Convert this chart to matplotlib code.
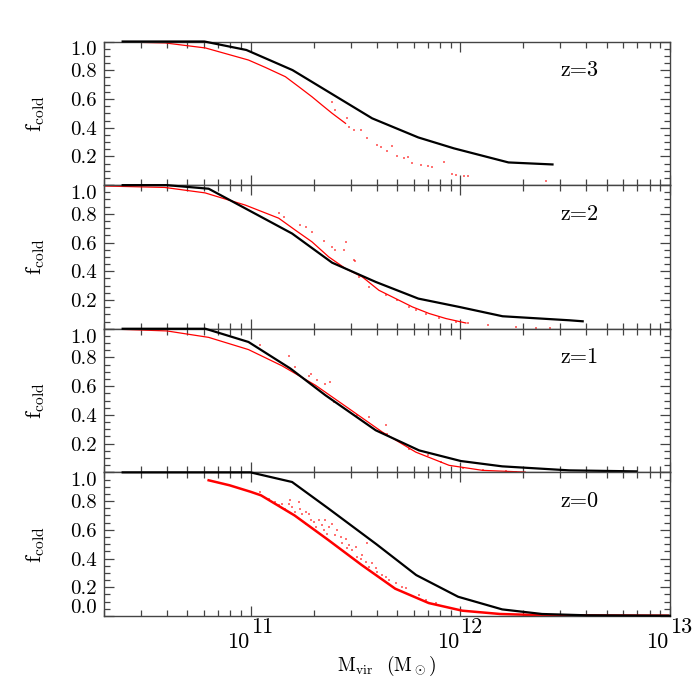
import matplotlib
matplotlib.use('Agg')
import matplotlib.pyplot as plt
import matplotlib.transforms as mtransforms
from matplotlib.ticker import FixedLocator, LogLocator, NullFormatter, FuncFormatter, MultipleLocator
import numpy as np

plt.rcParams['font.family'] = 'cmr10'
plt.rcParams['mathtext.fontset'] = 'cm'
plt.rcParams['axes.formatter.use_mathtext'] = True

# panel labels, top to bottom
redshifts = ['z=3', 'z=2', 'z=1', 'z=0']
decades = [11, 12, 13]

# black lines (log10 Mvir, f_cold)
logm_black_z3 = [10.39, 10.78, 10.98, 11.20, 11.58, 11.80, 11.97, 12.23, 12.44]
f_black_z3 = [1.0, 1.0, 0.941, 0.801, 0.465, 0.332, 0.256, 0.158, 0.144]

logm_black_z2 = [10.39, 10.60, 10.80, 10.975, 11.198, 11.389, 11.597, 11.80, 11.995, 12.202, 12.52, 12.584]
f_black_z2 = [1.0, 1.0, 0.975, 0.838, 0.663, 0.46, 0.326, 0.21, 0.152, 0.087, 0.059, 0.052]

logm_black_z1 = [10.39, 10.785, 10.99, 11.19, 11.357, 11.597, 11.804, 12.003, 12.20, 12.52, 12.84]
f_black_z1 = [1.0, 1.0, 0.908, 0.723, 0.537, 0.293, 0.153, 0.079, 0.042, 0.014, 0.007]

logm_black_z0 = [10.39, 11.0, 11.198, 11.37, 11.60, 11.79, 11.99, 12.20, 12.39, 12.60, 13.0]
f_black_z0 = [1.0, 1.0, 0.933, 0.75, 0.50, 0.285, 0.134, 0.046, 0.014, 0.005, 0.002]

# red main relation
logm_red_z3 = [10.29, 10.593, 10.785, 10.99, 11.07, 11.166, 11.23, 11.293, 11.341, 11.389, 11.453]
f_red_z3 = [1.0, 0.99, 0.955, 0.871, 0.82, 0.755, 0.685, 0.615, 0.557, 0.50, 0.43]

logm_red_z2 = [10.27, 10.59, 10.783, 10.975, 11.134, 11.214, 11.293, 11.373, 11.453, 11.533,
               11.612, 11.692, 11.772, 11.852, 11.932, 12.027]
f_red_z2 = [0.995, 0.984, 0.946, 0.861, 0.77, 0.686, 0.605, 0.50, 0.419, 0.361,
            0.268, 0.21, 0.152, 0.106, 0.071, 0.04]

logm_red_z1 = [10.30, 10.60, 10.80, 10.99, 11.15, 11.31, 11.469, 11.628, 11.788, 11.947, 12.107, 12.31]
f_red_z1 = [1.0, 0.985, 0.94, 0.855, 0.742, 0.606, 0.444, 0.281, 0.141, 0.049, 0.014, 0.002]

logm_red_z0 = [10.80, 10.90, 11.00, 11.05, 11.21, 11.37, 11.53, 11.69, 11.85, 12.01, 12.19, 12.40, 12.99]
f_red_z0 = [0.945, 0.91, 0.865, 0.84, 0.70, 0.53, 0.355, 0.19, 0.09, 0.037, 0.014, 0.005, 0.002]

# red scattered haloes
logm_dots_z3 = [11.389, 11.405, 11.461, 11.469, 11.493, 11.525, 11.557, 11.604, 11.62, 11.652,
                11.676, 11.70, 11.732, 11.753, 11.769, 11.812, 11.844, 11.865, 11.923, 11.963,
                11.979, 12.019, 12.035, 12.41]
f_dots_z3 = [0.58, 0.523, 0.465, 0.406, 0.383, 0.383, 0.325, 0.279, 0.267, 0.239,
             0.272, 0.202, 0.186, 0.193, 0.155, 0.139, 0.132, 0.128, 0.162, 0.075,
             0.07, 0.065, 0.063, 0.03]

logm_dots_z2 = [11.134, 11.158, 11.238, 11.262, 11.293, 11.349, 11.389, 11.405, 11.453, 11.445,
                11.493, 11.50, 11.517, 11.565, 11.644, 11.70, 11.756, 11.788, 11.836, 11.90,
                11.98, 12.035, 12.131, 12.267, 12.362, 12.426]
f_dots_z2 = [0.803, 0.779, 0.721, 0.709, 0.675, 0.612, 0.57, 0.547, 0.605, 0.547,
             0.477, 0.47, 0.361, 0.291, 0.233, 0.199, 0.152, 0.134, 0.106, 0.078,
             0.047, 0.040, 0.024, 0.013, 0.008, 0.008]

logm_dots_z1 = [11.046, 11.182, 11.214, 11.286, 11.278, 11.317, 11.357, 11.381, 11.397, 11.509,
                11.565, 11.644, 11.652, 11.756, 11.844, 11.907, 12.011, 12.107, 12.219, 12.267]
f_dots_z1 = [0.885, 0.808, 0.734, 0.688, 0.669, 0.641, 0.618, 0.629, 0.49, 0.397,
             0.385, 0.328, 0.27, 0.165, 0.118, 0.072, 0.033, 0.019, 0.009, 0.002]

logm_dots_z0 = [11.046, 11.086, 11.118, 11.134, 11.150, 11.166, 11.182, 11.190, 11.198, 11.214,
                11.230, 11.238, 11.246, 11.262, 11.278, 11.286, 11.262, 11.301, 11.31, 11.325,
                11.341, 11.349, 11.357, 11.365, 11.373, 11.389, 11.405, 11.413, 11.429, 11.437,
                11.453, 11.461, 11.469, 11.485, 11.501, 11.509, 11.525, 11.533, 11.549, 11.556,
                11.565, 11.580, 11.597, 11.604, 11.628, 11.644, 11.66, 11.692, 11.724, 11.740,
                11.804, 11.836, 11.884, 11.915]
f_dots_z0 = [0.863, 0.817, 0.794, 0.771, 0.782, 0.748, 0.782, 0.806, 0.759, 0.724,
             0.794, 0.748, 0.713, 0.724, 0.713, 0.667, 0.644, 0.655, 0.62, 0.667,
             0.632, 0.597, 0.667, 0.574, 0.62, 0.644, 0.5625, 0.597, 0.551, 0.505,
             0.539, 0.47, 0.493, 0.458, 0.481, 0.412, 0.40, 0.424, 0.377, 0.505,
             0.343, 0.366, 0.331, 0.308, 0.285, 0.273, 0.25, 0.227, 0.204, 0.192,
             0.146, 0.111, 0.093, 0.069]

black_lines = [(logm_black_z3, f_black_z3), (logm_black_z2, f_black_z2),
               (logm_black_z1, f_black_z1), (logm_black_z0, f_black_z0)]
red_lines = [(logm_red_z3, f_red_z3), (logm_red_z2, f_red_z2),
             (logm_red_z1, f_red_z1), (logm_red_z0, f_red_z0)]
red_dots = [(logm_dots_z3, f_dots_z3), (logm_dots_z2, f_dots_z2),
            (logm_dots_z1, f_dots_z1), (logm_dots_z0, f_dots_z0)]

frame = '#444444'

fig, axes = plt.subplots(4, 1, figsize=(7, 7), dpi=100, sharex=True)
fig.subplots_adjust(left=0.1486, right=0.957, top=0.9407, bottom=0.12, hspace=0)

for i, ax in enumerate(axes):
    lm, f = red_lines[i]
    ax.plot(10 ** np.array(lm), f, color='red', lw=1.8 if i == 3 else 0.9, zorder=2)
    lm, f = red_dots[i]
    ax.scatter(10 ** np.array(lm), f, s=2.0, marker='s', color='red', alpha=0.55,
               linewidths=0, zorder=2)
    lm, f = black_lines[i]
    ax.plot(10 ** np.array(lm), f, color='black', lw=1.6, zorder=4, clip_on=False)

    ax.set_xscale('log')
    ax.set_xlim(2e10, 1e13)
    ax.set_ylim(0.0, 1.0)
    ax.text(0.84, 0.8, redshifts[i], transform=ax.transAxes, ha='center', va='center',
            fontsize=16)

    for sp in ax.spines.values():
        sp.set_color(frame)
        sp.set_linewidth(1.0)
    ax.xaxis.set_major_locator(FixedLocator([10.0 ** d for d in decades]))
    ax.xaxis.set_minor_locator(LogLocator(base=10, subs=np.arange(2, 10)))
    ax.xaxis.set_major_formatter(NullFormatter())
    ax.xaxis.set_minor_formatter(NullFormatter())
    ax.yaxis.set_major_locator(FixedLocator([0.0, 0.2, 0.4, 0.6, 0.8, 1.0]))
    ax.yaxis.set_minor_locator(MultipleLocator(0.05))
    ax.tick_params(which='both', direction='in', top=True, right=True, color=frame,
                   width=0.9, labelsize=15, pad=5)
    ax.tick_params(which='major', length=7)
    ax.tick_params(which='minor', length=4)

    if i < 3:
        ax.yaxis.set_major_formatter(FuncFormatter(lambda v, p: '' if v < 0.1 else '%.1f' % v))
    else:
        ax.yaxis.set_major_formatter(FuncFormatter(lambda v, p: '%.1f' % v))
    ax.set_ylabel(r'f$_{\rm cold}$', fontsize=16)
    ax.yaxis.set_label_coords(-0.10, 0.5)

# IDL-style decade labels: base and a full-size raised exponent
bottom = axes[-1]
for d in decades:
    bottom.annotate('10', xy=(10.0 ** d, 0), xycoords=('data', 'axes fraction'),
                    xytext=(-1, -23), textcoords='offset points', ha='right', va='baseline',
                    fontsize=16)
    bottom.annotate('%d' % d, xy=(10.0 ** d, 0), xycoords=('data', 'axes fraction'),
                    xytext=(0, -12.5), textcoords='offset points', ha='left', va='baseline',
                    fontsize=16)
bottom.set_xlabel(r'M$_{\rm vir}$  (M$_\odot$)', fontsize=14)
bottom.xaxis.set_label_coords(0.5, -0.265)

fig.canvas.draw()
down = mtransforms.ScaledTranslation(0, -7 / 100, fig.dpi_scale_trans)
up = mtransforms.ScaledTranslation(0, 10 / 100, fig.dpi_scale_trans)
for i, ax in enumerate(axes):
    for lab in ax.get_yticklabels():
        if lab.get_text() == '1.0':
            lab.set_transform(lab.get_transform() + down)
        elif lab.get_text() == '0.0':
            lab.set_transform(lab.get_transform() + up)

fig.savefig('out.png', dpi=100)
